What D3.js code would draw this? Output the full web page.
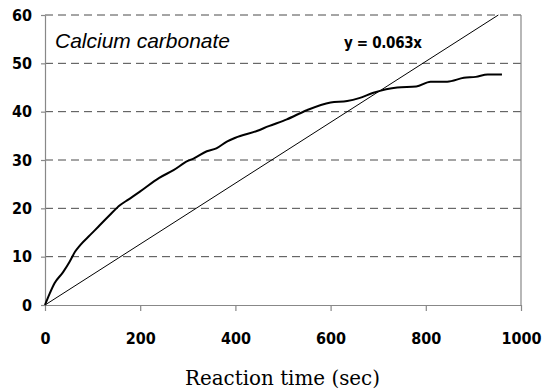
<!DOCTYPE html>
<html>
<head>
<meta charset="utf-8">
<script src="https://cdn.jsdelivr.net/npm/d3@7"></script>
<style>
  body { margin: 0; background: #fff; }
  svg { display: block; }
</style>
</head>
<body>
<div id="chart"></div>
<script>
// reaction data
var time_sec = [0, 10, 20, 38, 52, 63, 74, 95, 112, 133, 158, 175, 200, 240, 270, 300, 312, 340, 360, 382, 400, 445, 470, 508, 550, 600, 635, 660, 690, 740, 780, 810, 845, 880, 905, 930, 960];
var amount   = [0, 2.4, 4.5, 6.8, 9.0, 11.0, 12.4, 14.5, 16.2, 18.3, 20.7, 21.8, 23.5, 26.3, 27.9, 29.8, 30.3, 31.8, 32.4, 33.8, 34.6, 36.0, 37.0, 38.4, 40.3, 41.9, 42.2, 42.8, 43.9, 45.0, 45.2, 46.2, 46.2, 47.0, 47.2, 47.7, 47.7];
var fit_slope = 0.063;
var x_ticks = [0, 200, 400, 600, 800, 1000];
var y_ticks = [0, 10, 20, 30, 40, 50, 60];
var title_text = "Calcium carbonate";
var fit_text = "y = 0.063x";
var x_title = "Reaction time (sec)";

var W = 549, H = 391;
var margin = {left: 45, top: 15, right: 28, bottom: 86};
var width = W - margin.left - margin.right,
    height = H - margin.top - margin.bottom;

var svg = d3.select("#chart").append("svg")
    .attr("width", W)
    .attr("height", H);

var g = svg.append("g")
    .attr("transform", "translate(" + margin.left + "," + margin.top + ")");

var x = d3.scaleLinear().domain([0, 1000]).range([0, width]);
var y = d3.scaleLinear().domain([0, 60]).range([height, 0]);

var tickFont = "'DejaVu Sans Condensed', 'Liberation Sans Narrow', sans-serif";

// dashed grid (10..60)
g.selectAll(".grid")
    .data(y_ticks.filter(function(d){ return d > 0; }))
    .enter().append("line")
    .attr("class", "grid")
    .attr("x1", 0)
    .attr("x2", width)
    .attr("y1", function(d){ return y(d); })
    .attr("y2", function(d){ return y(d); })
    .attr("stroke", "#4a4a4a")
    .attr("stroke-width", 1)
    .attr("stroke-dasharray", "8,5");

// right border
g.append("line")
    .attr("x1", width).attr("x2", width)
    .attr("y1", 0).attr("y2", height)
    .attr("stroke", "#888").attr("stroke-width", 1.2);

// x axis
var xAxis = g.append("g")
    .attr("transform", "translate(0," + height + ")")
    .call(d3.axisBottom(x).tickValues(x_ticks).tickFormat(d3.format("d"))
        .tickSize(6).tickSizeOuter(0).tickPadding(22));
xAxis.select(".domain").attr("stroke", "#888").attr("stroke-width", 1.2);
xAxis.selectAll(".tick line").attr("stroke", "#888").attr("stroke-width", 1.2);
xAxis.selectAll(".tick text")
    .style("font-family", tickFont)
    .style("font-weight", "bold")
    .style("font-size", "16px")
    .attr("fill", "#000");

// y axis
var yAxis = g.append("g")
    .call(d3.axisLeft(y).tickValues(y_ticks).tickFormat(d3.format("d"))
        .tickSize(4).tickSizeOuter(0).tickPadding(9));
yAxis.select(".domain").attr("stroke", "#888").attr("stroke-width", 1.2);
yAxis.selectAll(".tick line").attr("stroke", "#888").attr("stroke-width", 1.2);
yAxis.selectAll(".tick text")
    .style("font-family", tickFont)
    .style("font-weight", "bold")
    .style("font-size", "16px")
    .attr("fill", "#000");

// fitted line y = 0.063x, clipped at the top of the plot
var fit_end = y.domain()[1] / fit_slope;
g.append("line")
    .attr("x1", x(0)).attr("y1", y(0))
    .attr("x2", x(fit_end)).attr("y2", y(fit_slope * fit_end))
    .attr("stroke", "#000")
    .attr("stroke-width", 1);

// measured curve
var pts = time_sec.map(function(t, i){ return [t, amount[i]]; });
var line = d3.line()
    .x(function(d){ return x(d[0]); })
    .y(function(d){ return y(d[1]); })
    .curve(d3.curveMonotoneX);

g.append("path")
    .datum(pts)
    .attr("d", line)
    .attr("fill", "none")
    .attr("stroke", "#000")
    .attr("stroke-width", 2)
    .attr("stroke-linejoin", "round");

// labels
g.append("text")
    .attr("x", 10)
    .attr("y", 33)
    .text(title_text)
    .style("font-family", "'Liberation Sans', Arial, sans-serif")
    .style("font-style", "italic")
    .style("font-size", "21px")
    .attr("textLength", 175)
    .attr("lengthAdjust", "spacingAndGlyphs")
    .attr("fill", "#000");

g.append("text")
    .attr("x", 299)
    .attr("y", 33)
    .text(fit_text)
    .style("font-family", "'DejaVu Sans Condensed', 'Liberation Sans', sans-serif")
    .style("font-weight", "bold")
    .style("font-size", "15px")
    .attr("textLength", 78)
    .attr("fill", "#000");

svg.append("text")
    .attr("x", 185)
    .attr("y", 385)
    .text(x_title)
    .style("font-family", "'DejaVu Serif', 'Liberation Serif', serif")
    .style("font-size", "20px")
    .attr("textLength", 195)
    .attr("lengthAdjust", "spacingAndGlyphs")
    .attr("fill", "#000");
</script>
</body>
</html>
